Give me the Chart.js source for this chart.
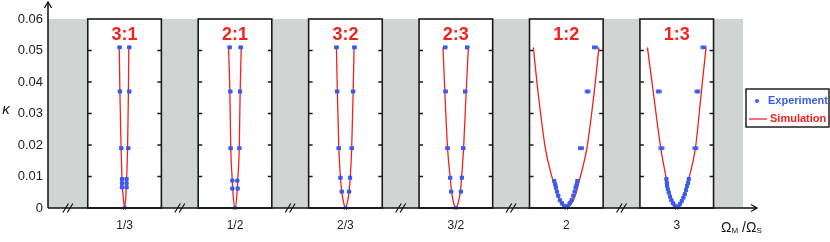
<!DOCTYPE html>
<html><head><meta charset="utf-8">
<script src="https://cdn.jsdelivr.net/npm/chart.js@4"></script>
<style>html,body{margin:0;padding:0;background:#fff}canvas{display:block}</style>
</head><body>
<canvas id="c" width="830" height="242"></canvas>
<script>
// ---------- DATA ----------
const ratioLabels = ['3:1', '2:1', '3:2', '2:3', '1:2', '1:3'];
const tickLabels  = ['1/3', '1/2', '2/3', '3/2', '2', '3'];
const kappaTicks  = [0, 0.01, 0.02, 0.03, 0.04, 0.05, 0.06];

// Experiment: detuning offset within each panel, kappa, half error
const exp31Delta = [-0.136, 0.127, -0.127, 0.127, -0.09, 0.10, -0.072, 0.054, -0.072, 0.054, -0.072, 0.054, 0];
const exp31Kappa = [0.051, 0.051, 0.037, 0.037, 0.019, 0.019, 0.0092, 0.0092, 0.0079, 0.0079, 0.0066, 0.0066, 0];
const exp31Err   = [0.04, 0.04, 0.04, 0.04, 0.04, 0.04, 0.035, 0.035, 0.035, 0.035, 0.035, 0.035, 0.03];

const exp21Delta = [-0.145, 0.154, -0.127, 0.136, -0.118, 0.118, -0.072, 0.063, -0.072, 0.072, 0];
const exp21Kappa = [0.051, 0.051, 0.037, 0.037, 0.019, 0.019, 0.0087, 0.0087, 0.0062, 0.0062, 0];
const exp21Err   = [0.04, 0.04, 0.04, 0.04, 0.04, 0.04, 0.035, 0.035, 0.035, 0.035, 0.03];

const exp32Delta = [-0.244, 0.244, -0.226, 0.208, -0.181, 0.172, -0.136, 0.127, -0.10, 0.10, 0];
const exp32Kappa = [0.051, 0.051, 0.037, 0.037, 0.019, 0.019, 0.0096, 0.0096, 0.0052, 0.0052, 0];
const exp32Err   = [0.045, 0.045, 0.045, 0.045, 0.045, 0.045, 0.04, 0.04, 0.04, 0.04, 0.03];

const exp23Delta = [-0.29, 0.308, -0.28, 0.253, -0.226, 0.199, -0.154, 0.163, -0.127, 0.136, 0];
const exp23Kappa = [0.051, 0.051, 0.037, 0.037, 0.019, 0.019, 0.0096, 0.0096, 0.0052, 0.0052, 0];
const exp23Err   = [0.045, 0.045, 0.045, 0.045, 0.045, 0.045, 0.04, 0.04, 0.04, 0.04, 0.03];

const exp12Delta = [0.778, 0.579, 0.398, -0.326, -0.299, -0.281, -0.253, -0.217, -0.172, -0.118, -0.054, 0, 0.299, 0.281, 0.253, 0.226, 0.19, 0.145, 0.09, 0.036];
const exp12Kappa = [0.051, 0.037, 0.019, 0.0086, 0.0075, 0.0065, 0.0052, 0.0039, 0.0025, 0.0015, 0.0006, 0, 0.0086, 0.0075, 0.0065, 0.0052, 0.0039, 0.0025, 0.0015, 0.0006];
const exp12Err   = [0.065, 0.065, 0.065, 0.035, 0.035, 0.035, 0.035, 0.035, 0.035, 0.035, 0.035, 0.035, 0.035, 0.035, 0.035, 0.035, 0.035, 0.035, 0.035, 0.035];

const exp13Delta = [0.724, -0.489, 0.561, -0.416, 0.507, -0.281, -0.271, -0.262, -0.244, -0.217, -0.181, -0.145, -0.10, -0.054, 0, 0.326, 0.308, 0.281, 0.253, 0.217, 0.181, 0.136, 0.09, 0.045];
const exp13Kappa = [0.051, 0.037, 0.037, 0.019, 0.019, 0.0092, 0.008, 0.0071, 0.006, 0.0049, 0.0036, 0.0025, 0.0015, 0.0007, 0, 0.0092, 0.008, 0.007, 0.0057, 0.0044, 0.0033, 0.0022, 0.0013, 0.0005];
const exp13Err   = [0.065, 0.065, 0.065, 0.065, 0.065, 0.035, 0.035, 0.035, 0.035, 0.035, 0.035, 0.035, 0.035, 0.035, 0.035, 0.035, 0.035, 0.035, 0.035, 0.035, 0.035, 0.035, 0.035, 0.035];

// Simulation curves
const sim31Delta = [-0.145, -0.127, -0.095, -0.07, -0.04, 0, 0.035, 0.055, 0.082, 0.105, 0.115];
const sim31Kappa = [0.051, 0.037, 0.019, 0.009, 0.004, 0, 0.004, 0.009, 0.019, 0.037, 0.051];

const sim21Delta = [-0.175, -0.14, -0.115, -0.075, -0.05, 0, 0.05, 0.075, 0.115, 0.14, 0.17];
const sim21Kappa = [0.051, 0.037, 0.019, 0.009, 0.004, 0, 0.004, 0.009, 0.019, 0.037, 0.051];

const sim32Delta = [-0.245, -0.22, -0.18, -0.135, -0.1, -0.05, 0, 0.05, 0.1, 0.13, 0.17, 0.21, 0.235];
const sim32Kappa = [0.051, 0.037, 0.019, 0.0096, 0.0052, 0.0017, 0, 0.0017, 0.0052, 0.0096, 0.019, 0.037, 0.051];

const sim23Delta = [-0.35, -0.3, -0.226, -0.154, -0.12, -0.06, 0, 0.06, 0.125, 0.154, 0.21, 0.28, 0.34];
const sim23Kappa = [0.051, 0.037, 0.019, 0.0096, 0.0055, 0.0015, 0, 0.0015, 0.0055, 0.0096, 0.019, 0.037, 0.051];

const sim12Delta = [-0.896, -0.77, -0.57, -0.38, -0.26, -0.13, 0, 0.13, 0.26, 0.37, 0.56, 0.76, 0.887];
const sim12Kappa = [0.051, 0.037, 0.019, 0.0094, 0.0045, 0.0012, 0, 0.0012, 0.0045, 0.0094, 0.019, 0.037, 0.051];

const sim13Delta = [-0.796, -0.64, -0.434, -0.28, -0.18, -0.09, 0, 0.1, 0.2, 0.326, 0.507, 0.67, 0.796];
const sim13Kappa = [0.051, 0.037, 0.019, 0.0092, 0.0042, 0.0012, 0, 0.0012, 0.0042, 0.0092, 0.019, 0.037, 0.051];

// ---------- LAYOUT / STYLE ----------
const PANEL_STEP = 3, PANEL_FIRST = 2, PANEL_HALF = 1;
const X_MIN = -0.08, X_MAX = 18.8;
const RED = '#f2231f', BLUE = '#3c5cf0', GREY = '#d0d5d3';
const FONT = '"Liberation Sans", Arial, Helvetica, sans-serif';

const expSets = [
  [exp31Delta, exp31Kappa, exp31Err], [exp21Delta, exp21Kappa, exp21Err],
  [exp32Delta, exp32Kappa, exp32Err], [exp23Delta, exp23Kappa, exp23Err],
  [exp12Delta, exp12Kappa, exp12Err], [exp13Delta, exp13Kappa, exp13Err]
];
const simSets = [
  [sim31Delta, sim31Kappa], [sim21Delta, sim21Kappa], [sim32Delta, sim32Kappa],
  [sim23Delta, sim23Kappa], [sim12Delta, sim12Kappa], [sim13Delta, sim13Kappa]
];
const center = i => PANEL_FIRST + PANEL_STEP * i;

const datasets = [];
simSets.forEach(([d, k], i) => {
  datasets.push({
    type: 'line', label: 'Simulation',
    data: d.map((v, j) => ({ x: center(i) + v, y: k[j] })),
    borderColor: RED, borderWidth: 1.3, pointRadius: 0,
    cubicInterpolationMode: 'monotone', fill: false, order: 2
  });
});
expSets.forEach(([d, k, e], i) => {
  datasets.push({
    type: 'scatter', label: 'Experiment',
    data: d.map((v, j) => ({ x: center(i) + v, y: k[j], e: e[j] })),
    backgroundColor: BLUE, borderColor: BLUE, borderWidth: 0,
    pointRadius: 2.2, order: 1, isExp: true
  });
});

const decor = {
  id: 'decor',
  beforeDatasetsDraw(chart) {
    const { ctx, chartArea: ca, scales: { x, y } } = chart;
    const top = y.getPixelForValue(0.06), bot = y.getPixelForValue(0);
    ctx.save();
    ctx.fillStyle = GREY;
    ctx.fillRect(ca.left, top, ca.right - ca.left, bot - top);
    ratioLabels.forEach((lab, i) => {
      const l = x.getPixelForValue(center(i) - PANEL_HALF);
      const r = x.getPixelForValue(center(i) + PANEL_HALF);
      ctx.fillStyle = '#fff';
      ctx.fillRect(l, top, r - l, bot - top);
      ctx.strokeStyle = '#1a1a1a';
      ctx.lineWidth = 1.6;
      ctx.strokeRect(l, top, r - l, bot - top);
      kappaTicks.slice(1, -1).forEach(t => {
        const py = y.getPixelForValue(t);
        ctx.beginPath();
        ctx.moveTo(l, py); ctx.lineTo(l + 4, py);
        ctx.moveTo(r, py); ctx.lineTo(r - 4, py);
        ctx.stroke();
      });
    });
    ctx.restore();
  },
  afterDatasetsDraw(chart) {
    const { ctx, scales: { x, y } } = chart;
    ctx.save();
    ctx.strokeStyle = BLUE;
    ctx.lineWidth = 1;
    chart.data.datasets.forEach(ds => {
      if (!ds.isExp) return;
      ds.data.forEach(p => {
        const py = y.getPixelForValue(p.y);
        const a = x.getPixelForValue(p.x - p.e), b = x.getPixelForValue(p.x + p.e);
        ctx.beginPath();
        ctx.moveTo(a, py); ctx.lineTo(b, py);
        ctx.moveTo(a, py - 2); ctx.lineTo(a, py + 2);
        ctx.moveTo(b, py - 2); ctx.lineTo(b, py + 2);
        ctx.stroke();
      });
    });
    ctx.restore();
  },
  afterDraw(chart) {
    const { ctx, chartArea: ca, scales: { x, y } } = chart;
    const bot = y.getPixelForValue(0);
    ctx.save();
    ctx.strokeStyle = '#111';
    ctx.lineWidth = 1.5;
    const axRight = ca.right + 14, axTop = 2;
    ctx.beginPath();
    ctx.moveTo(ca.left, bot); ctx.lineTo(axRight, bot);
    ctx.moveTo(ca.left, bot); ctx.lineTo(ca.left, axTop);
    ctx.stroke();
    ctx.lineWidth = 1.3;
    ctx.beginPath();
    ctx.moveTo(axRight - 6, bot - 3.5); ctx.lineTo(axRight, bot); ctx.lineTo(axRight - 6, bot + 3.5);
    ctx.moveTo(ca.left - 3.5, axTop + 6); ctx.lineTo(ca.left, axTop); ctx.lineTo(ca.left + 3.5, axTop + 6);
    ctx.stroke();
    const breaks = [(X_MIN + center(0) - PANEL_HALF) / 2];
    for (let i = 0; i < ratioLabels.length - 1; i++) breaks.push(center(i) + PANEL_STEP / 2);
    ctx.lineWidth = 1.2;
    breaks.forEach(v => {
      const px = x.getPixelForValue(v);
      ctx.beginPath();
      [-2.2, 2.2].forEach(dx => {
        ctx.moveTo(px + dx - 2.8, bot + 4.5);
        ctx.lineTo(px + dx + 2.8, bot - 4.5);
      });
      ctx.stroke();
    });
    ctx.fillStyle = RED;
    ctx.font = 'bold 18px ' + FONT;
    ctx.textAlign = 'center';
    ctx.textBaseline = 'alphabetic';
    ratioLabels.forEach((lab, i) => ctx.fillText(lab, x.getPixelForValue(center(i)), 40));
    ctx.fillStyle = '#111';
    ctx.font = 'italic 15px ' + FONT;
    ctx.textBaseline = 'middle';
    ctx.fillText('κ', 6, 110);
    ctx.textAlign = 'left';
    ctx.textBaseline = 'alphabetic';
    let tx = 721;
    const bl = 232;
    const part = (t, f, dy) => { ctx.font = f; ctx.fillText(t, tx, bl + dy); tx += ctx.measureText(t).width; };
    part('Ω', '14px ' + FONT, 0);
    part('M', '8px ' + FONT, 1);
    part(' /', '14px ' + FONT, 0);
    part('Ω', '14px ' + FONT, 0);
    part('S', '8px ' + FONT, 1);
    const lx = 746, ly = 89, lw = 83, lh = 38;
    ctx.fillStyle = '#fff';
    ctx.fillRect(lx, ly, lw, lh);
    ctx.strokeStyle = '#111';
    ctx.lineWidth = 1.4;
    ctx.strokeRect(lx, ly, lw, lh);
    ctx.fillStyle = BLUE;
    ctx.beginPath(); ctx.arc(757, 101, 2, 0, Math.PI * 2); ctx.fill();
    ctx.font = 'bold 11px ' + FONT;
    ctx.textBaseline = 'middle';
    ctx.fillText('Experiment', 768, 101);
    ctx.strokeStyle = RED;
    ctx.lineWidth = 1.3;
    ctx.beginPath(); ctx.moveTo(749, 119); ctx.lineTo(767, 119); ctx.stroke();
    ctx.fillStyle = RED;
    ctx.fillText('Simulation', 770, 119);
    ctx.restore();
  }
};

new Chart(document.getElementById('c'), {
  data: { datasets },
  options: {
    responsive: false, animation: false, devicePixelRatio: 1,
    layout: { padding: { top: 19, right: 87, left: 0, bottom: 0 } },
    plugins: { legend: { display: false }, tooltip: { enabled: false } },
    scales: {
      x: {
        type: 'linear', min: X_MIN, max: X_MAX,
        grid: { display: false, drawTicks: false }, border: { display: false },
        afterBuildTicks: s => { s.ticks = tickLabels.map((l, i) => ({ value: center(i) })); },
        afterFit: s => { s.height = 34; },
        ticks: {
          autoSkip: false, maxRotation: 0, padding: 10, color: '#222',
          font: { family: FONT, size: 12 },
          callback: (v, i) => tickLabels[i]
        }
      },
      y: {
        type: 'linear', min: 0, max: 0.06,
        grid: { display: false, drawTicks: false }, border: { display: false },
        afterBuildTicks: s => { s.ticks = kappaTicks.map(v => ({ value: v })); },
        afterFit: s => { s.width = 48; },
        ticks: {
          padding: 5, color: '#222',
          font: { family: FONT, size: 13 },
          callback: v => String(v)
        }
      }
    }
  },
  plugins: [decor]
});
</script>
</body></html>
